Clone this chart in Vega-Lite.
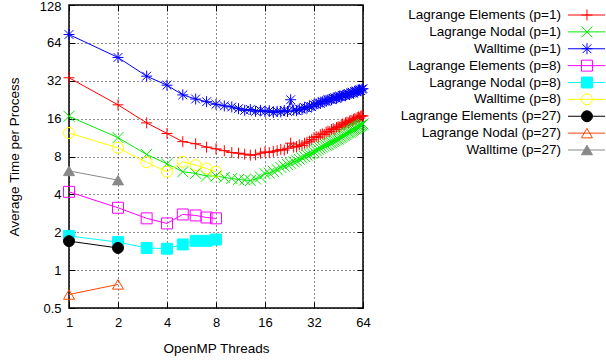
{
  "$schema": "https://vega.github.io/schema/vega-lite/v6.json",
  "width": 294,
  "height": 303,
  "autosize": {"type": "none"},
  "padding": {"left": 69, "top": 5, "right": 243, "bottom": 56},
  "config": {
    "font": "Liberation Sans",
    "view": {"stroke": "#000000", "strokeWidth": 1.5},
    "axis": {
      "labelFont": "Liberation Sans",
      "titleFont": "Liberation Sans",
      "labelColor": "#000000",
      "titleColor": "#000000",
      "labelFontSize": 13,
      "titleFontSize": 13.5,
      "titleFontWeight": "normal",
      "tickColor": "#000000",
      "tickSize": -6,
      "tickWidth": 1,
      "domain": false,
      "labelFlush": false,
      "labelOverlap": false
    }
  },
  "datasets": {
    "perf": [
      {"t": 1, "s1": 33.8, "s2": 16.7, "s3": 74.6, "s4": 4.19, "s5": 1.87, "s6": 12.3, "s7": 1.70, "s8": 0.64, "s9": 6.15},
      {"t": 2, "s1": 20.6, "s2": 11.3, "s3": 49.0, "s4": 3.13, "s5": 1.67, "s6": 9.38, "s7": 1.50, "s8": 0.77, "s9": 5.19},
      {"t": 3, "s1": 14.8, "s2": 8.3, "s3": 34.8, "s4": 2.58, "s5": 1.50, "s6": 7.2},
      {"t": 4, "s1": 12.2, "s2": 7.0, "s3": 29.5, "s4": 2.35, "s5": 1.48, "s6": 6.05},
      {"t": 5, "s1": 10.5, "s2": 6.05, "s3": 24.7, "s4": 2.77, "s5": 1.60, "s6": 7.26},
      {"t": 6, "s1": 10.1, "s2": 5.87, "s3": 22.9, "s4": 2.72, "s5": 1.71, "s6": 6.83},
      {"t": 7, "s1": 9.5, "s2": 5.6, "s3": 21.8, "s4": 2.62, "s5": 1.71, "s6": 6.43},
      {"t": 8, "s1": 9.2, "s2": 5.6, "s3": 20.8, "s4": 2.58, "s5": 1.75, "s6": 6.05},
      {"t": 9, "s1": 8.9, "s2": 5.45, "s3": 20.2},
      {"t": 10, "s1": 8.6, "s2": 5.35, "s3": 19.8},
      {"t": 11, "s1": 8.5, "s2": 5.25, "s3": 19.2},
      {"t": 12, "s1": 8.35, "s2": 5.2, "s3": 18.6},
      {"t": 13, "s1": 8.2, "s2": 5.15, "s3": 18.9},
      {"t": 14, "s1": 8.25, "s2": 5.3, "s3": 18.3},
      {"t": 15, "s1": 8.5, "s2": 5.5, "s3": 18.6},
      {"t": 16, "s1": 8.7, "s2": 5.85, "s3": 18.2},
      {"t": 17, "s1": 8.6, "s2": 5.9, "s3": 18.5},
      {"t": 18, "s1": 8.8, "s2": 6.1, "s3": 17.9},
      {"t": 19, "s1": 8.9, "s2": 6.3, "s3": 18.3},
      {"t": 20, "s1": 9.1, "s2": 6.55, "s3": 18.1},
      {"t": 21, "s1": 9.0, "s2": 6.7, "s3": 18.6},
      {"t": 22, "s1": 9.3, "s2": 6.9, "s3": 18.2},
      {"t": 23, "s1": 10.2, "s2": 7.05, "s3": 22.6},
      {"t": 24, "s1": 9.5, "s2": 7.25, "s3": 18.7},
      {"t": 25, "s1": 9.6, "s2": 7.4, "s3": 18.5},
      {"t": 26, "s1": 9.9, "s2": 7.6, "s3": 19.1},
      {"t": 27, "s1": 9.8, "s2": 7.8, "s3": 18.9},
      {"t": 28, "s1": 10.2, "s2": 8.0, "s3": 19.6},
      {"t": 29, "s1": 10.4, "s2": 8.2, "s3": 19.4},
      {"t": 30, "s1": 10.6, "s2": 8.35, "s3": 20.1},
      {"t": 31, "s1": 10.9, "s2": 8.5, "s3": 19.9},
      {"t": 32, "s1": 11.3, "s2": 8.7, "s3": 20.6},
      {"t": 33, "s1": 11.5, "s2": 8.9, "s3": 20.9},
      {"t": 34, "s1": 11.4, "s2": 9.1, "s3": 21.3},
      {"t": 35, "s1": 11.9, "s2": 9.3, "s3": 21.1},
      {"t": 36, "s1": 12.1, "s2": 9.5, "s3": 21.8},
      {"t": 37, "s1": 12.0, "s2": 9.7, "s3": 22.1},
      {"t": 38, "s1": 12.5, "s2": 9.85, "s3": 21.9},
      {"t": 39, "s1": 12.7, "s2": 10.0, "s3": 22.6},
      {"t": 40, "s1": 12.6, "s2": 10.2, "s3": 22.8},
      {"t": 41, "s1": 13.1, "s2": 10.35, "s3": 22.6},
      {"t": 42, "s1": 13.3, "s2": 10.5, "s3": 23.2},
      {"t": 43, "s1": 13.1, "s2": 10.7, "s3": 23.5},
      {"t": 44, "s1": 13.6, "s2": 10.85, "s3": 23.2},
      {"t": 45, "s1": 13.8, "s2": 11.0, "s3": 23.8},
      {"t": 46, "s1": 13.7, "s2": 11.2, "s3": 24.1},
      {"t": 47, "s1": 14.2, "s2": 11.4, "s3": 23.8},
      {"t": 48, "s1": 14.5, "s2": 11.6, "s3": 24.4},
      {"t": 49, "s1": 14.3, "s2": 11.8, "s3": 24.7},
      {"t": 50, "s1": 14.8, "s2": 12.0, "s3": 24.4},
      {"t": 51, "s1": 15.0, "s2": 12.2, "s3": 25.0},
      {"t": 52, "s1": 14.8, "s2": 12.4, "s3": 25.3},
      {"t": 53, "s1": 15.3, "s2": 12.5, "s3": 24.9},
      {"t": 54, "s1": 15.5, "s2": 12.7, "s3": 25.6},
      {"t": 55, "s1": 15.3, "s2": 12.9, "s3": 25.9},
      {"t": 56, "s1": 15.8, "s2": 13.1, "s3": 25.5},
      {"t": 57, "s1": 16.0, "s2": 13.3, "s3": 26.2},
      {"t": 58, "s1": 15.8, "s2": 13.4, "s3": 26.5},
      {"t": 59, "s1": 16.3, "s2": 13.6, "s3": 26.1},
      {"t": 60, "s1": 16.5, "s2": 13.8, "s3": 26.8},
      {"t": 61, "s1": 16.2, "s2": 13.9, "s3": 27.1},
      {"t": 62, "s1": 16.7, "s2": 14.1, "s3": 26.7},
      {"t": 63, "s1": 16.9, "s2": 14.3, "s3": 27.4},
      {"t": 64, "s1": 16.8, "s2": 14.5, "s3": 27.7}
    ],
    "keys": [
      {"key": "s1", "name": "Lagrange Elements (p=1)"},
      {"key": "s2", "name": "Lagrange Nodal (p=1)"},
      {"key": "s3", "name": "Walltime (p=1)"},
      {"key": "s4", "name": "Lagrange Elements (p=8)"},
      {"key": "s5", "name": "Lagrange Nodal (p=8)"},
      {"key": "s6", "name": "Walltime (p=8)"},
      {"key": "s7", "name": "Lagrange Elements (p=27)"},
      {"key": "s8", "name": "Lagrange Nodal (p=27)"},
      {"key": "s9", "name": "Walltime (p=27)"}
    ]
  },
  "layer": [
    {
      "data": {"name": "perf"},
      "transform": [
        {"fold": ["s1", "s2", "s3", "s4", "s5", "s6", "s7", "s8", "s9"], "as": ["key", "v"]},
        {"filter": "isValid(datum.v)"}
      ],
      "layer": [
        {
          "mark": {"type": "line", "strokeWidth": 1},
          "encoding": {
            "x": {"field": "t", "type": "quantitative",
              "scale": {"type": "log", "base": 2, "domain": [1, 64], "nice": false},
              "axis": {"orient": "bottom", "values": [1, 2, 4, 8, 16, 32, 64], "format": "~g", "title": "OpenMP Threads",
                "grid": true, "gridDash": [1, 3], "gridColor": "#000000", "gridOpacity": 0.9, "labelPadding": 14, "titlePadding": 12}},
            "y": {"field": "v", "type": "quantitative",
              "scale": {"type": "log", "base": 2, "domain": [0.5, 128], "nice": false},
              "axis": {"orient": "left", "values": [0.5, 1, 2, 4, 8, 16, 32, 64, 128], "format": "~g", "title": "Average Time per Process",
                "grid": true, "gridDash": [1, 3], "gridColor": "#000000", "gridOpacity": 0.9, "labelPadding": 14, "titlePadding": 18,
                "labelOffset": {"condition": {"test": "datum.value === 128", "value": 1.5}, "value": 0}}},
            "color": {"field": "key", "type": "nominal", "legend": null,
              "scale": {"domain": ["s1", "s2", "s3", "s4", "s5", "s6", "s7", "s8", "s9"],
                "range": ["#ff0000", "#00ee00", "#0000ff", "#ff00ff", "#00ffff", "#ffff00", "#000000", "#ff4500", "#888888"]}}
          }
        },
        {
          "mark": {"type": "point", "size": 120, "strokeWidth": 1, "opacity": 1},
          "encoding": {
            "x": {"field": "t", "type": "quantitative",
              "axis": {"orient": "top", "values": [1, 2, 4, 8, 16, 32, 64], "labels": false, "title": null, "grid": false}},
            "y": {"field": "v", "type": "quantitative",
              "axis": {"orient": "right", "values": [0.5, 1, 2, 4, 8, 16, 32, 64, 128], "labels": false, "title": null, "grid": false}},
            "order": {"field": "key"},
            "shape": {"field": "key", "type": "nominal", "legend": null,
              "scale": {"domain": ["s1", "s2", "s3", "s4", "s5", "s6", "s7", "s8", "s9"],
                "range": ["M-1,0H1M0,-1V1", "M-1,-1L1,1M-1,1L1,-1", "M-1,0H1M0,-1V1M-0.8,-0.8L0.8,0.8M-0.8,0.8L0.8,-0.8", "square", "square", "circle", "circle", "triangle-up", "triangle-up"]}},
            "stroke": {"field": "key", "type": "nominal", "legend": null,
              "scale": {"domain": ["s1", "s2", "s3", "s4", "s5", "s6", "s7", "s8", "s9"],
                "range": ["#ff0000", "#00ee00", "#0000ff", "#ff00ff", "#00ffff", "#ffff00", "#000000", "#ff4500", "#888888"]}},
            "fill": {"field": "key", "type": "nominal", "legend": null,
              "scale": {"domain": ["s1", "s2", "s3", "s4", "s5", "s6", "s7", "s8", "s9"],
                "range": ["transparent", "transparent", "transparent", "transparent", "#00ffff", "transparent", "#000000", "transparent", "#888888"]}}
          }
        }
      ],
      "resolve": {"axis": {"x": "independent", "y": "independent"}}
    },
    {
      "data": {"name": "keys"},
      "encoding": {
        "y": {"field": "key", "type": "nominal", "axis": null,
          "scale": {"type": "point", "domain": ["s1", "s2", "s3", "s4", "s5", "s6", "s7", "s8", "s9"], "range": [10, 145], "padding": 0}}
      },
      "layer": [
        {
          "mark": {"type": "rule", "strokeWidth": 1},
          "encoding": {
            "x": {"datum": 0.16, "type": "quantitative", "axis": null, "scale": {"domain": [0, 1], "range": [492, 536]}},
            "x2": {"datum": 1},
            "color": {"field": "key", "type": "nominal", "legend": null}
          }
        },
        {
          "mark": {"type": "point", "size": 120, "strokeWidth": 1, "opacity": 1},
          "encoding": {
            "x": {"datum": 0.59, "type": "quantitative", "axis": null},
            "shape": {"field": "key", "type": "nominal", "legend": null},
            "stroke": {"field": "key", "type": "nominal", "legend": null},
            "fill": {"field": "key", "type": "nominal", "legend": null}
          }
        },
        {
          "mark": {"type": "text", "align": "right", "baseline": "middle", "fontSize": 13.5, "font": "Liberation Sans", "color": "#000000"},
          "encoding": {
            "x": {"datum": 0, "type": "quantitative", "axis": null},
            "text": {"field": "name"}
          }
        }
      ]
    }
  ],
  "resolve": {"scale": {"x": "independent", "y": "independent"}}
}
